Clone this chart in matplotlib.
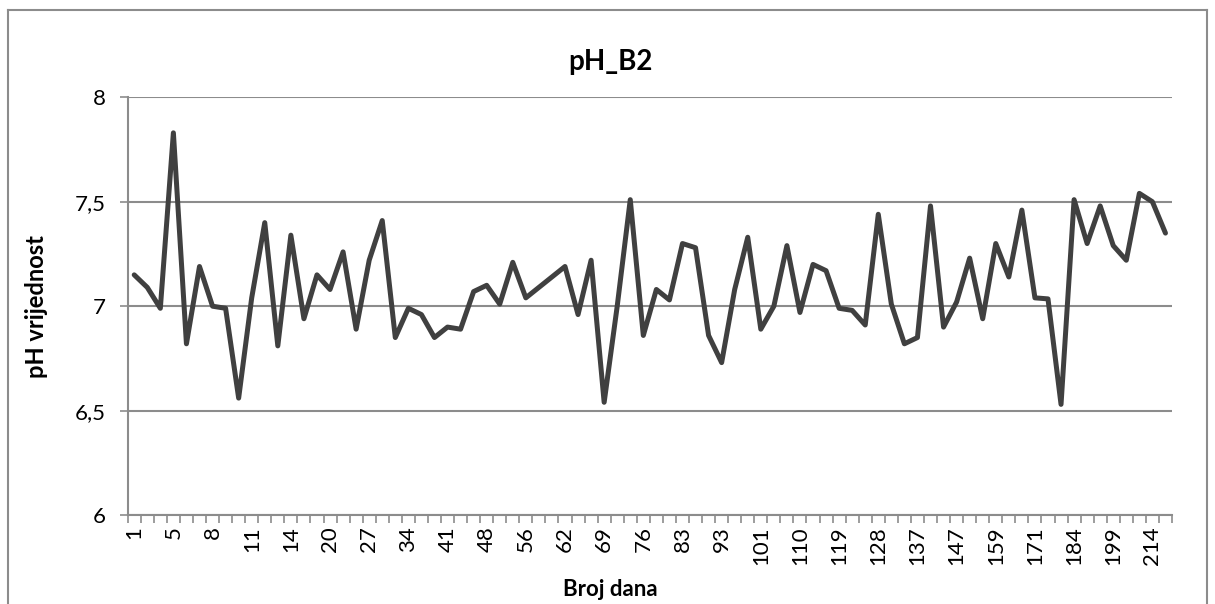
import matplotlib
matplotlib.use("Agg")
import matplotlib.pyplot as plt
from matplotlib.lines import Line2D
from matplotlib.ticker import FixedLocator, FuncFormatter

plt.rcParams['font.family'] = ['Lato', 'DejaVu Sans']

# dani mjerenja (kategorije na osi x)
dani = [1, 2, 4, 5, 6, 7, 8, 9, 10, 11, 12, 13, 14, 16, 18, 20, 22, 25, 27, 29,
        32, 34, 36, 39, 41, 43, 46, 48, 50, 53, 56, 58, 60, 62, 64, 67, 69, 71, 74, 76,
        78, 81, 83, 86, 90, 93, 96, 99, 101, 104, 107, 110, 113, 116, 119, 122, 125, 128, 131, 134,
        137, 140, 144, 147, 151, 155, 159, 163, 167, 171, 175, 179, 184, 189, 194, 199, 204, 209, 214, 218]

# pH vrijednosti
ph = [7.15, 7.09, 6.99, 7.83, 6.82, 7.19, 7.00, 6.99, 6.56, 7.04,
      7.40, 6.81, 7.34, 6.94, 7.15, 7.08, 7.26, 6.89, 7.22, 7.41,
      6.85, 6.99, 6.96, 6.85, 6.90, 6.89, 7.07, 7.10, 7.01, 7.21,
      7.04, 7.09, 7.14, 7.19, 6.96, 7.22, 6.54, 7.00, 7.51, 6.86,
      7.08, 7.03, 7.30, 7.28, 6.86, 6.73, 7.08, 7.33, 6.89, 7.00,
      7.29, 6.97, 7.20, 7.17, 6.99, 6.98, 6.91, 7.44, 7.01, 6.82,
      6.85, 7.48, 6.90, 7.02, 7.23, 6.94, 7.30, 7.14, 7.46, 7.04,
      7.035, 6.53, 7.51, 7.30, 7.48, 7.29, 7.22, 7.54, 7.50, 7.35]

y_ticks = [6, 6.5, 7, 7.5, 8]

W, H = 1215, 604
fig = plt.figure(figsize=(12.15, 6.04), dpi=100)
ax = fig.add_axes([0.1051, 0.1472, 0.8595, 0.6917])

x = list(range(len(dani)))
ax.plot(x, ph, color="#404040", linewidth=3.6, solid_joinstyle="round", solid_capstyle="round", zorder=3)

ax.set_xlim(-0.5, len(dani) - 0.5)
ax.set_ylim(6, 8)

# y os
ax.set_yticks(y_ticks)
ax.yaxis.set_major_formatter(FuncFormatter(lambda v, p: ("%g" % v).replace(".", ",")))
ax.grid(axis="y", color="#8c8c8c", linewidth=1.5, zorder=1)
ax.tick_params(axis="y", length=6, width=1.2, color="#8c8c8c", labelsize=16, pad=10)

# x os: oznake svaka treca kategorija, crtice na granicama
ax.set_xticks(x[::3])
ax.set_xticklabels([str(d) for d in dani[::3]], rotation=90)
ax.xaxis.set_minor_locator(FixedLocator([i - 0.5 for i in range(len(dani) + 1)]))
ax.tick_params(axis="x", which="major", length=0, labelsize=16, pad=8)
ax.tick_params(axis="x", which="minor", length=6, width=1.2, color="#8c8c8c")

for s in ["top", "right"]:
    ax.spines[s].set_visible(False)
for s in ["left", "bottom"]:
    ax.spines[s].set_color("#8c8c8c")
    ax.spines[s].set_linewidth(1.5)

# naslovi
fig.text(610 / W, 1 - 62 / H, "pH_B2", fontsize=20, fontweight="bold", ha="center", va="center")
fig.text(36 / W, 1 - 307 / H, "pH vrijednost", fontsize=17, fontweight="bold",
         rotation=90, ha="center", va="center")
fig.text(610 / W, 1 - 590 / H, "Broj dana", fontsize=16, fontweight="bold", ha="center", va="center")

# okvir grafikona
for xs, ys in [([8 / W, 8 / W], [0, 1 - 10 / H]),
               ([8 / W, 1207 / W], [1 - 10 / H, 1 - 10 / H]),
               ([1207 / W, 1207 / W], [1 - 10 / H, 0])]:
    fig.add_artist(Line2D(xs, ys, color="#8c8c8c", linewidth=1.5, transform=fig.transFigure))

fig.savefig("out.png", dpi=100)
